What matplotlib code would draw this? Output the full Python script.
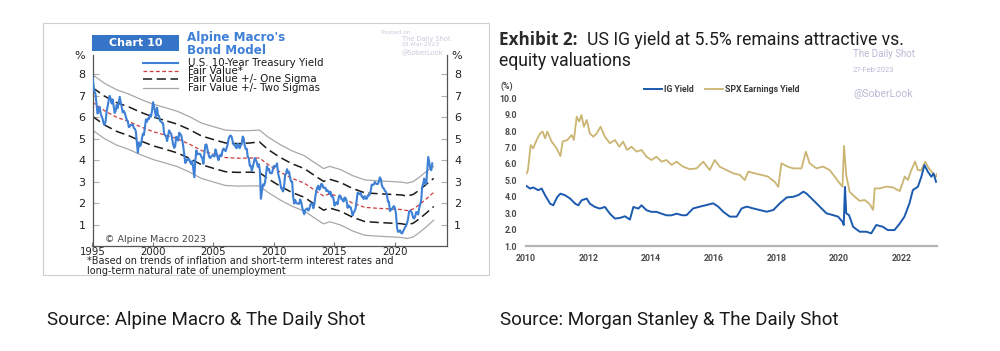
import numpy as np
import matplotlib
matplotlib.use("Agg")
import matplotlib.pyplot as plt
from matplotlib.lines import Line2D

W, H = 1000, 351

# ---- left panel: Alpine Macro bond model (monthly 10y yield, 1995 - Feb 2023)
TSY_START = 1995
TSY = [
    7.90, 7.47, 7.20, 7.06, 6.63, 6.17, 6.28, 6.49, 6.20, 6.04, 5.93, 5.71,  # 1995
    5.65, 5.81, 6.27, 6.51, 6.74, 7.00, 6.87, 6.64, 6.83, 6.53, 6.20, 6.30,  # 1996
    6.58, 6.42, 6.69, 6.95, 6.71, 6.49, 6.22, 6.30, 6.21, 6.03, 5.88, 5.81,  # 1997
    5.54, 5.57, 5.65, 5.64, 5.65, 5.50, 5.46, 5.34, 4.81, 4.35, 4.83, 4.65,  # 1998
    4.72, 5.00, 5.23, 5.18, 5.54, 5.90, 5.79, 5.94, 5.92, 6.11, 6.03, 6.28,  # 1999
    6.70, 6.52, 6.26, 5.99, 6.44, 6.10, 6.05, 5.83, 5.80, 5.74, 5.72, 5.24,  # 2000
    5.16, 5.10, 4.89, 5.14, 5.39, 5.28, 5.24, 4.97, 4.73, 4.57, 4.65, 5.09,  # 2001
    5.04, 4.91, 5.28, 5.21, 5.16, 4.93, 4.65, 4.26, 3.87, 3.94, 4.05, 4.03,  # 2002
    4.05, 3.90, 3.81, 3.96, 3.57, 3.20, 3.98, 4.45, 4.27, 4.29, 4.30, 4.27,  # 2003
    4.15, 4.08, 3.83, 4.35, 4.72, 4.73, 4.50, 4.28, 4.13, 4.10, 4.19, 4.23,  # 2004
    4.22, 4.17, 4.50, 4.34, 4.14, 4.00, 4.18, 4.26, 4.20, 4.46, 4.54, 4.47,  # 2005
    4.42, 4.57, 4.72, 4.99, 5.11, 5.15, 5.09, 4.88, 4.72, 4.73, 4.60, 4.56,  # 2006
    4.76, 4.72, 4.56, 4.69, 4.75, 5.10, 5.00, 4.67, 4.52, 4.53, 4.15, 4.10,  # 2007
    3.74, 3.74, 3.51, 3.68, 3.88, 4.10, 4.01, 3.89, 3.69, 3.81, 3.53, 2.20,  # 2008
    2.52, 2.87, 2.82, 2.93, 3.29, 3.72, 3.56, 3.59, 3.40, 3.39, 3.40, 3.59,  # 2009
    3.73, 3.69, 3.73, 3.85, 3.42, 3.20, 3.01, 2.70, 2.65, 2.54, 2.76, 3.29,  # 2010
    3.39, 3.58, 3.41, 3.46, 3.17, 3.00, 3.00, 2.30, 1.98, 2.15, 2.01, 1.98,  # 2011
    1.97, 1.97, 2.17, 2.05, 1.80, 1.62, 1.48, 1.68, 1.72, 1.75, 1.65, 1.72,  # 2012
    1.91, 1.98, 1.96, 1.76, 1.93, 2.30, 2.58, 2.74, 2.81, 2.62, 2.72, 2.90,  # 2013
    2.86, 2.71, 2.72, 2.71, 2.56, 2.60, 2.54, 2.42, 2.53, 2.30, 2.33, 2.21,  # 2014
    1.88, 1.98, 2.04, 1.94, 2.20, 2.36, 2.32, 2.17, 2.17, 2.07, 2.26, 2.24,  # 2015
    2.09, 1.78, 1.89, 1.81, 1.81, 1.64, 1.42, 1.56, 1.63, 1.76, 2.14, 2.49,  # 2016
    2.43, 2.42, 2.48, 2.30, 2.30, 2.19, 2.32, 2.21, 2.20, 2.36, 2.35, 2.40,  # 2017
    2.58, 2.86, 2.84, 2.87, 2.98, 2.91, 2.89, 2.89, 3.00, 3.20, 3.12, 2.83,  # 2018
    2.71, 2.68, 2.57, 2.53, 2.40, 2.07, 2.06, 1.63, 1.70, 1.71, 1.81, 1.86,  # 2019
    1.76, 1.50, 0.87, 0.66, 0.67, 0.73, 0.62, 0.58, 0.68, 0.79, 0.87, 0.93,  # 2020
    1.08, 1.26, 1.61, 1.64, 1.62, 1.52, 1.32, 1.28, 1.37, 1.58, 1.56, 1.47,  # 2021
    1.76, 1.93, 2.13, 2.75, 2.90, 3.14, 2.90, 2.90, 3.52, 4.15, 3.89, 3.62,  # 2022
    3.53, 3.85,                                                              # 2023
]

FV_YEARS = [1995, 1996, 1997, 1998, 1999, 2000, 2001, 2002, 2003, 2004, 2005,
            2006, 2007, 2008, 2008.8, 2009.5, 2010.5, 2011.5, 2012.5, 2013.5,
            2014.1, 2014.6, 2015.5, 2016.5, 2017.5, 2018.5, 2019.5, 2020.5,
            2021.0, 2021.5, 2022.0, 2022.6, 2023.2]
FAIR = [6.70, 6.30, 6.00, 5.80, 5.55, 5.33, 5.17, 5.00, 4.75, 4.45, 4.28,
        4.12, 4.09, 4.10, 4.10, 3.80, 3.45, 3.15, 2.93, 2.55,
        2.33, 2.43, 2.28, 2.00, 1.80, 1.76, 1.73, 1.70,
        1.65, 1.72, 1.92, 2.20, 2.50]
UP1 = [7.38, 6.98, 6.68, 6.48, 6.23, 6.01, 5.85, 5.68, 5.43, 5.13, 4.96,
       4.80, 4.77, 4.80, 4.85, 4.50, 4.13, 3.83, 3.61, 3.23,
       3.01, 3.11, 2.96, 2.68, 2.48, 2.44, 2.41, 2.38,
       2.33, 2.40, 2.60, 2.88, 3.15]
DN1 = [6.04, 5.64, 5.34, 5.14, 4.89, 4.67, 4.51, 4.34, 4.09, 3.79, 3.62,
       3.46, 3.43, 3.44, 3.42, 3.14, 2.79, 2.49, 2.27, 1.89,
       1.67, 1.77, 1.62, 1.34, 1.14, 1.10, 1.07, 1.04,
       0.99, 1.06, 1.26, 1.54, 1.84]
UP2 = [7.98, 7.58, 7.28, 7.08, 6.83, 6.61, 6.45, 6.28, 6.03, 5.73, 5.56,
       5.40, 5.37, 5.38, 5.40, 5.08, 4.73, 4.43, 4.21, 3.83,
       3.61, 3.71, 3.56, 3.28, 3.08, 3.04, 3.01, 2.98,
       2.93, 3.00, 3.20, 3.48, 3.70]
DN2 = [5.40, 5.00, 4.70, 4.50, 4.25, 4.03, 3.87, 3.70, 3.45, 3.15, 2.98,
       2.82, 2.79, 2.80, 2.80, 2.50, 2.15, 1.85, 1.63, 1.25,
       1.03, 1.13, 0.98, 0.70, 0.50, 0.46, 0.43, 0.40,
       0.35, 0.42, 0.62, 0.90, 1.20]

LEFT_LABELS = ["U.S. 10-Year Treasury Yield", "Fair Value*",
               "Fair Value +/- One Sigma", "Fair Value +/- Two Sigmas"]
LEFT_XTICKS = [1995, 2000, 2005, 2010, 2015, 2020]
LEFT_YTICKS = [1, 2, 3, 4, 5, 6, 7, 8]

# ---- right panel: IG yield vs SPX earnings yield
IG_X = [2010.02, 2010.13, 2010.23, 2010.39, 2010.5, 2010.61, 2010.77, 2010.87, 2011.0, 2011.1,
        2011.25, 2011.41, 2011.57, 2011.67, 2011.78, 2011.94, 2012.04, 2012.2, 2012.36, 2012.52,
        2012.68, 2012.84, 2013.0, 2013.16, 2013.32, 2013.43, 2013.59, 2013.69, 2013.85, 2014.01,
        2014.17, 2014.33, 2014.49, 2014.65, 2014.81, 2015.0, 2015.13, 2015.34, 2015.56, 2015.77,
        2015.98, 2016.14, 2016.3, 2016.51, 2016.73, 2016.89, 2017.05, 2017.26, 2017.47, 2017.69,
        2017.9, 2018.11, 2018.33, 2018.54, 2018.7, 2018.86, 2018.96, 2019.12, 2019.28, 2019.44,
        2019.6, 2019.81, 2019.97, 2020.11, 2020.15, 2020.19, 2020.23, 2020.32, 2020.45, 2020.66,
        2020.87, 2021.03, 2021.19, 2021.4, 2021.56, 2021.77, 2021.93, 2022.09, 2022.25, 2022.36,
        2022.52, 2022.63, 2022.73, 2022.84, 2022.95, 2023.02, 2023.1]
IG_Y = [4.65, 4.50, 4.57, 4.40, 4.50, 4.09, 3.58, 3.48, 3.99, 4.19,
        4.09, 3.89, 3.58, 3.48, 3.79, 3.89, 3.58, 3.38, 3.28, 3.38,
        2.97, 2.67, 2.71, 2.81, 2.61, 3.38, 3.28, 3.48, 3.18, 3.08,
        3.08, 2.97, 2.87, 2.87, 2.97, 2.87, 2.88, 3.29, 3.40, 3.50,
        3.60, 3.40, 3.09, 2.79, 2.79, 3.29, 3.40, 3.29, 3.19, 3.09,
        3.19, 3.60, 3.96, 4.00, 4.10, 4.31, 4.20, 3.90, 3.60, 3.29,
        2.99, 2.88, 2.79, 2.48, 2.28, 4.60, 2.99, 2.88, 2.17, 1.87,
        1.87, 1.77, 2.28, 2.17, 1.97, 1.97, 2.34, 2.79, 3.60, 4.41,
        4.61, 5.22, 5.93, 5.52, 5.22, 5.42, 4.91]
SPX_X = [2010.02, 2010.06, 2010.15, 2010.23, 2010.34, 2010.45, 2010.53, 2010.61, 2010.68, 2010.82,
         2010.98, 2011.1, 2011.17, 2011.32, 2011.46, 2011.53, 2011.62, 2011.7, 2011.77, 2011.85,
         2011.94, 2012.04, 2012.15, 2012.26, 2012.38, 2012.52, 2012.68, 2012.84, 2012.98, 2013.1,
         2013.23, 2013.37, 2013.53, 2013.69, 2013.85, 2014.01, 2014.17, 2014.33, 2014.49, 2014.65,
         2014.81, 2015.0, 2015.23, 2015.45, 2015.66, 2015.87, 2016.03, 2016.19, 2016.4, 2016.62,
         2016.83, 2016.99, 2017.1, 2017.3, 2017.52, 2017.73, 2017.95, 2018.06, 2018.16, 2018.35,
         2018.54, 2018.8, 2018.94, 2019.06, 2019.28, 2019.49, 2019.7, 2019.86, 2020.02, 2020.11,
         2020.16, 2020.23, 2020.34, 2020.5, 2020.66, 2020.82, 2020.98, 2021.09, 2021.14, 2021.3,
         2021.51, 2021.72, 2021.94, 2022.1, 2022.2, 2022.31, 2022.43, 2022.52, 2022.62, 2022.75,
         2022.87, 2023.0, 2023.1, 2023.13]
SPX_Y = [5.43, 5.60, 7.15, 6.95, 7.46, 7.86, 7.97, 7.56, 7.97, 7.36,
         6.95, 6.48, 7.36, 7.46, 7.76, 7.46, 8.88, 8.58, 8.98, 8.27,
         8.68, 7.86, 7.66, 7.86, 8.27, 7.66, 7.26, 7.46, 7.05, 7.36,
         6.85, 7.05, 6.75, 6.85, 6.44, 6.24, 6.44, 6.14, 6.24, 5.94,
         6.14, 5.85, 5.68, 5.73, 6.14, 5.63, 6.24, 5.83, 5.63, 5.43,
         5.33, 5.02, 5.53, 5.43, 5.33, 5.23, 4.90, 4.60, 6.04, 5.84,
         5.73, 5.73, 6.75, 6.04, 5.73, 5.84, 5.63, 5.23, 4.82, 4.62,
         7.10, 5.32, 4.30, 4.01, 3.75, 3.80, 3.55, 3.20, 4.51, 4.51,
         4.62, 4.57, 4.35, 5.23, 5.02, 5.63, 6.14, 5.63, 5.60, 6.14,
         5.73, 5.42, 5.22, 5.40]
RIGHT_XTICKS = [2010, 2012, 2014, 2016, 2018, 2020, 2022]
RIGHT_YTICKS = [1, 2, 3, 4, 5, 6, 7, 8, 9, 10]

BLUE = "#3d80d6"
IG_BLUE = "#1b5aae"
KHAKI = "#cbb573"
WATERMARK = "#b9b9d6"


def box(x0, y0, x1, y1):
    return [x0 / W, 1 - y1 / H, (x1 - x0) / W, (y1 - y0) / H]


def fx(x):
    return x / W


def fy(y):
    return 1 - y / H


fig = plt.figure(figsize=(W / 100, H / 100), dpi=100)
fig.patch.set_facecolor("white")

# frame round the left picture
fig.add_artist(plt.Rectangle((fx(42.7), fy(275)), (489 - 42.7) / W, (275 - 22.7) / H,
                             transform=fig.transFigure, fill=False, edgecolor="#cfcfcf", lw=0.8))

# ---------------- left chart
ax1 = fig.add_axes(box(92.5, 55, 447, 246))
tsy_x = TSY_START + np.arange(len(TSY)) / 12
two_sigma = dict(color="#a8a8a8", lw=0.9)
one_sigma = dict(color="#1a1a1a", lw=1.1, ls=(0, (6, 3)))
fair_style = dict(color="#cc3b3b", lw=0.9, ls=(0, (3, 2)))
tsy_style = dict(color=BLUE, lw=1.5)
ax1.plot(FV_YEARS, UP2, **two_sigma)
ax1.plot(FV_YEARS, DN2, **two_sigma)
ax1.plot(FV_YEARS, UP1, **one_sigma)
ax1.plot(FV_YEARS, DN1, **one_sigma)
ax1.plot(FV_YEARS, FAIR, **fair_style)
ax1.plot(tsy_x, TSY, zorder=4, **tsy_style)
ax1.set_xlim(1995, 2024.3)
ax1.set_ylim(0, 8.9)
ax1.spines["top"].set_visible(False)
for s in ("left", "right", "bottom"):
    ax1.spines[s].set_color("#555555")
    ax1.spines[s].set_linewidth(0.9)
ax1.set_xticks(LEFT_XTICKS)
ax1.set_yticks(LEFT_YTICKS)
ax1.tick_params(axis="x", direction="in", length=3, color="#777777", labelsize=7.3, pad=1,
                labelcolor="#222222")
ax1.tick_params(axis="y", direction="in", length=4, color="#b0b0b0", labelsize=8,
                labelcolor="#222222", left=True, right=True, labelleft=True, labelright=True, pad=5)
for lab in ax1.get_xticklabels() + ax1.get_yticklabels():
    lab.set_family("DejaVu Sans")
fig.text(fx(80), fy(56), "%", fontsize=8, ha="center", va="center", color="#222222")
fig.text(fx(457), fy(56), "%", fontsize=8, ha="center", va="center", color="#222222")

# legend keys drawn row by row (rows sit very close together in the original)
legend_rows = [62.7, 71.0, 79.3, 87.7]
for label, style, row in zip(LEFT_LABELS, [tsy_style, fair_style, one_sigma, two_sigma], legend_rows):
    fig.add_artist(Line2D([fx(143), fx(178)], [fy(row), fy(row)], transform=fig.transFigure, **style))
    fig.text(fx(188), fy(row), label, fontsize=7.4, va="center", ha="left",
             color="#1a1a1a", family="DejaVu Sans")

# title block
fig.add_artist(plt.Rectangle((fx(92), fy(51)), 87 / W, 16 / H, transform=fig.transFigure,
                             facecolor="#3574c6", edgecolor="none"))
fig.text(fx(135.5), fy(43), "Chart 10", color="white", fontsize=8, fontweight="bold",
         ha="center", va="center", family="DejaVu Sans")
fig.text(fx(187), fy(30.5), "Alpine Macro's\nBond Model", color="#3f80d8", fontsize=8.6,
         fontweight="bold", ha="left", va="top", linespacing=1.0, family="DejaVu Sans")

# watermark
fig.text(fx(381), fy(33), "Posted on", color="#c9c9dc", fontsize=4.3, va="center")
fig.text(fx(402), fy(38.5), "The Daily Shot", color="#c9c9dc", fontsize=4.8, va="center")
fig.text(fx(402), fy(44), "03-Mar-2023", color="#c9c9dc", fontsize=4.3, va="center")
fig.text(fx(402), fy(53), "@SoberLook", color="#c9c9dc", fontsize=4.8, va="center")

fig.text(fx(105), fy(239), "\u00a9 Alpine Macro 2023", color="#444444", fontsize=6.8,
         va="center", family="DejaVu Sans")
fig.text(fx(87), fy(256),
         "*Based on trends of inflation and short-term interest rates and\n"
         "long-term natural rate of unemployment",
         color="#222222", fontsize=7.0, va="top", linespacing=1.02, family="DejaVu Sans")

# ---------------- right chart
NARROW = ["Liberation Sans Narrow", "Roboto"]
ax2 = fig.add_axes(box(526, 98.3, 937, 246))
lig, = ax2.plot(IG_X, IG_Y, color=IG_BLUE, lw=1.4, zorder=3)
lspx, = ax2.plot(SPX_X, SPX_Y, color=KHAKI, lw=1.3, zorder=2)
ax2.set_xlim(2010, 2023.13)
ax2.set_ylim(1, 10)
for s in ("left", "right", "top"):
    ax2.spines[s].set_visible(False)
ax2.spines["bottom"].set_color("#b5b5b5")
ax2.spines["bottom"].set_linewidth(1.6)
ax2.set_xticks(RIGHT_XTICKS)
ax2.set_yticks(RIGHT_YTICKS)
ax2.set_yticklabels([f"{v:.1f}" for v in RIGHT_YTICKS])
ax2.tick_params(length=0, labelsize=6.3, labelcolor="#4a4a4a")
ax2.tick_params(axis="x", pad=6)
ax2.tick_params(axis="y", pad=6.5)
for lab in ax2.get_xticklabels() + ax2.get_yticklabels():
    lab.set_family(NARROW)
    lab.set_fontweight("bold")
fig.text(fx(507), fy(86), "(%)", fontsize=6.3, fontweight="bold", color="#4a4a4a",
         ha="center", va="center", family=NARROW)
ax2.legend([lig, lspx], ["IG Yield", "SPX Earnings Yield"], loc="center",
           bbox_to_anchor=(fx(722), fy(89.5)), bbox_transform=fig.transFigure,
           ncol=2, frameon=False, handlelength=2.0, handletextpad=0.3, columnspacing=1.3,
           borderpad=0, borderaxespad=0,
           prop={"family": NARROW, "size": 6.3, "weight": "bold"})
for t in ax2.get_legend().get_texts():
    t.set_color("#3a3a3a")

fig.text(fx(499), fy(45), "Exhibit 2:", fontsize=12.3, fontweight="bold", color="#2a2a2a",
         family=["Open Sans", "Roboto"], va="baseline")
fig.text(fx(587), fy(45), "US IG yield at 5.5% remains attractive vs.", fontsize=12.7,
         color="#1e1e1e", family="Roboto", va="baseline")
fig.text(fx(499), fy(66.5), "equity valuations", fontsize=12.7, color="#1e1e1e",
         family="Roboto", va="baseline")
fig.text(fx(853), fy(54), "The Daily Shot", fontsize=7, color=WATERMARK, va="center",
         family="Roboto")
fig.text(fx(853), fy(70), "27-Feb-2023", fontsize=5.3, color=WATERMARK, va="center",
         family="Roboto")
fig.text(fx(853), fy(94), "@SoberLook", fontsize=7.6, color=WATERMARK, va="center",
         family="Roboto")

# ---------------- sources
fig.text(fx(47), fy(320), "Source: Alpine Macro & The Daily Shot", fontsize=13.5,
         color="#1a1a1a", va="center", family="Roboto")
fig.text(fx(500), fy(320), "Source: Morgan Stanley & The Daily Shot", fontsize=13.5,
         color="#1a1a1a", va="center", family="Roboto")

fig.savefig("out.png", dpi=100, facecolor="white")
